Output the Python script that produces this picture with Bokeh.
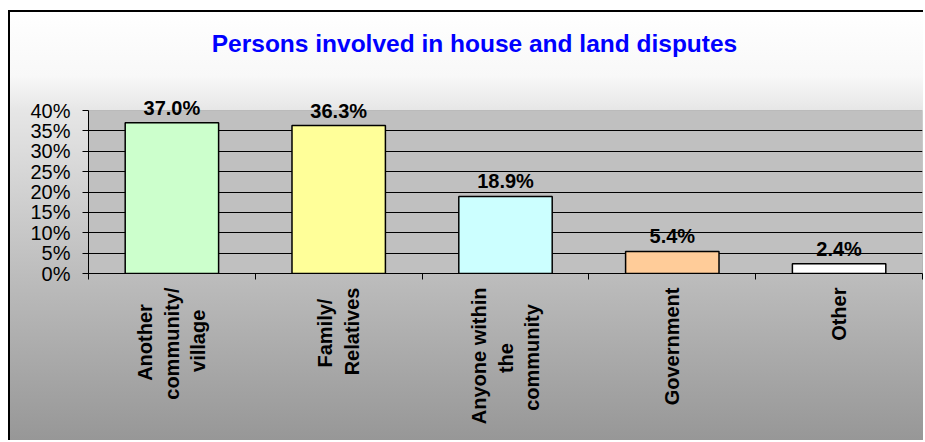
import math
from bokeh.plotting import figure
from bokeh.models import (Label, Range1d, FixedTicker, LinearAxis, BoxAnnotation,
                          NumeralTickFormatter, CustomJSTickFormatter, ColumnDataSource)
from bokeh.embed import file_html
from bokeh.resources import INLINE

# ---- data ----
categories = ["Another\ncommunity/\nvillage", "Family/\nRelatives",
              "Anyone within\nthe\ncommunity", "Government", "Other"]
values = [0.370, 0.363, 0.189, 0.054, 0.024]
y_ticks = [0.0, 0.05, 0.10, 0.15, 0.20, 0.25, 0.30, 0.35, 0.40]
title_text = "Persons involved in house and land disputes"

bar_colors = ["#CCFFCC", "#FFFF99", "#CCFFFF", "#FFCC99", "#FFFFFF"]
labels = [f"{v * 100:.1f}%" for v in values]
n = len(categories)
centers = [i + 0.5 for i in range(n)]
bounds = list(range(n + 1))
y_min, y_max = y_ticks[0], y_ticks[-1]

# trailing padding (in spaces) so that the lines of each rotated label look centred
pad = {"Another": 3, "village": 4, "Family/": 2, "the": 10, "community": 3}
display_names = ["\n".join(line + " " * pad.get(line, 0) for line in c.split("\n"))
                 for c in categories]

source = ColumnDataSource(dict(x=centers, top=values, color=bar_colors, label=labels))

FONT = "Liberation Sans"

# the frame reaches the top of the chart so that labels above 40% are not clipped
FRAME_TOP_EXTRA = 261 / 163  # frame height / height of the 0..40% band (pixels)

p = figure(
    title=None,
    x_range=Range1d(0, n), y_range=Range1d(y_min, y_max * FRAME_TOP_EXTRA),
    width=915, height=430,
    output_backend="svg", toolbar_location=None,
    min_border_left=78, min_border_right=3, min_border_top=0, min_border_bottom=169,
)
p.styles = {
    "margin-left": "8px",
    "margin-top": "10px",
    "border-left": "2px solid black",
    "border-top": "2px solid black",
    "background": "linear-gradient(to bottom, #ffffff 0%, #f8f8f8 15%, #e6e6e6 23%, #bcbcbc 62%, #979797 100%)",
}
p.border_fill_color = None
p.background_fill_color = None
p.outline_line_color = None

# grey plot area 0..40%
p.add_layout(BoxAnnotation(bottom=y_min, top=y_max, fill_color="#C0C0C0", fill_alpha=1,
                           line_color="#808080", line_width=1, level="image"))

# title
p.add_layout(Label(x=n / 2, y=y_max, x_offset=-31, y_offset=67, text=title_text,
                   text_align="center", text_baseline="middle", text_font=FONT,
                   text_font_style="bold", text_font_size="24.5px", text_color="#0000FF"))

# bars
p.vbar(x="x", top="top", width=0.56, source=source, fill_color="color",
       line_color="black", line_width=1.5)

# value labels
for xc, v, t in zip(centers, values, labels):
    p.add_layout(Label(x=xc, y=v, text=t, text_align="center", text_baseline="bottom",
                       y_offset=4, text_font=FONT, text_font_style="bold",
                       text_font_size="20px", text_color="black"))

# grid
p.xgrid.grid_line_color = None
p.ygrid.ticker = FixedTicker(ticks=y_ticks[1:-1])
p.ygrid.grid_line_color = "black"
p.ygrid.grid_line_width = 1

# y axis
yax = p.yaxis[0]
yax.ticker = FixedTicker(ticks=y_ticks)
yax.bounds = (y_min, y_max)
yax.formatter = NumeralTickFormatter(format="0%")
yax.axis_line_color = "black"
yax.major_tick_line_color = "black"
yax.major_tick_out = 6
yax.major_tick_in = 0
yax.minor_tick_line_color = None
yax.major_label_standoff = 12
yax.major_label_text_font = FONT
yax.major_label_text_font_size = "20px"
yax.major_label_text_color = "black"

# boundary ticks on the x axis (default axis)
tick_axis = p.xaxis[0]
tick_axis.ticker = FixedTicker(ticks=bounds)
tick_axis.axis_line_color = "black"
tick_axis.major_tick_line_color = "black"
tick_axis.major_tick_out = 6
tick_axis.major_tick_in = 0
tick_axis.minor_tick_line_color = None
tick_axis.major_label_text_font_size = "0px"
tick_axis.major_label_text_alpha = 0
tick_axis.major_label_standoff = 0

# category labels
cat_axis = LinearAxis(ticker=FixedTicker(ticks=centers),
                      formatter=CustomJSTickFormatter(args=dict(names=display_names),
                                                      code="return names[Math.round(tick - 0.5)];"))
cat_axis.axis_line_color = None
cat_axis.major_tick_line_color = None
cat_axis.minor_tick_line_color = None
cat_axis.major_tick_out = 0
cat_axis.major_tick_in = 0
cat_axis.major_label_orientation = math.pi / 2
cat_axis.major_label_standoff = 8
cat_axis.major_label_text_font = FONT
cat_axis.major_label_text_font_style = "bold"
cat_axis.major_label_text_font_size = "20px"
cat_axis.major_label_text_color = "black"
cat_axis.major_label_text_line_height = 1.2
p.add_layout(cat_axis, "below")

open("out.html", "w").write(file_html(p, INLINE))
